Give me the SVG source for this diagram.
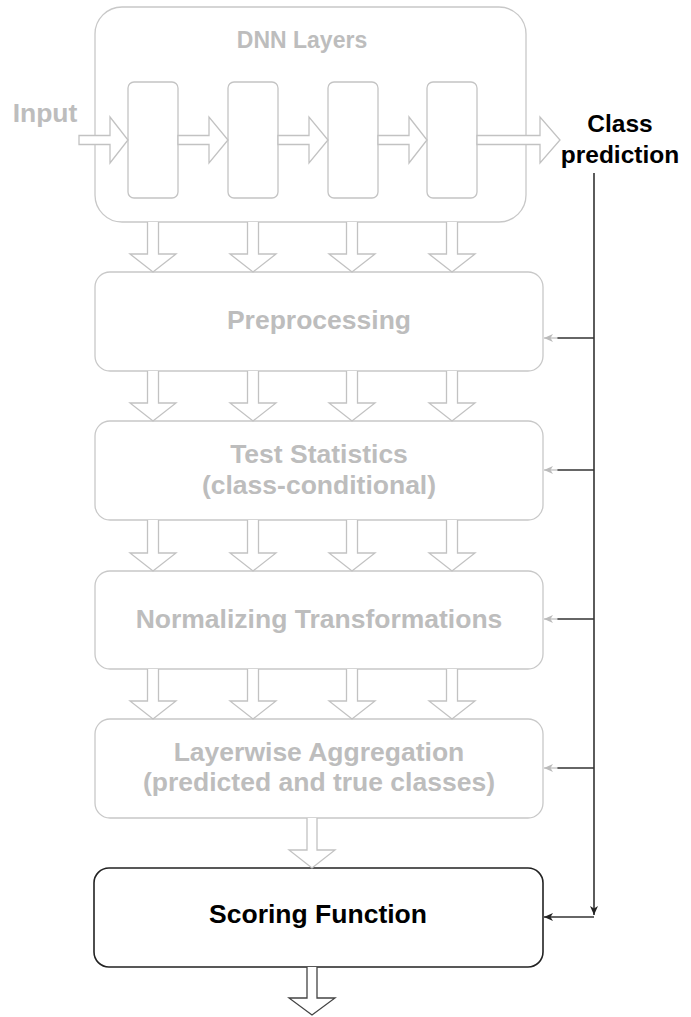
<svg xmlns="http://www.w3.org/2000/svg" width="691" height="1017" viewBox="0 0 691 1017">
<style>
.gbox{fill:#fff;stroke:#c8c8c8;stroke-width:1.3}
.inner{fill:#fff;stroke:#c4c4c4;stroke-width:1.3}
.blk{fill:#fff;stroke:#c2c2c2;stroke-width:1.3;stroke-linejoin:miter}
.blkd{fill:#fff;stroke:#444;stroke-width:1.3}
.gt{font-family:"Liberation Sans",Arial,sans-serif;font-weight:bold;font-size:26.5px;fill:#bdbdbd;text-anchor:middle}
.bt{font-family:"Liberation Sans",Arial,sans-serif;font-weight:bold;font-size:26.5px;fill:#000;text-anchor:middle}
.line{fill:none;stroke:#333;stroke-width:1.6}
.gline{fill:none;stroke:#bbb;stroke-width:1.2}
</style>
<defs>
<marker id="ag" markerWidth="10" markerHeight="8" refX="9" refY="4" orient="auto" markerUnits="userSpaceOnUse"><path d="M0,0 L9,4 L0,8 L2.5,4 Z" fill="#bbb"/></marker>
<marker id="ab" markerWidth="10" markerHeight="8" refX="9" refY="4" orient="auto" markerUnits="userSpaceOnUse"><path d="M0,0 L9,4 L0,8 L2.5,4 Z" fill="#222"/></marker>
</defs>

<g id="dnn-layers">
<rect class="gbox" x="95" y="7" width="431" height="215" rx="27"/>
<text class="gt" x="302" y="48" style="font-size:23px">DNN Layers</text>
<rect class="inner" x="128" y="82" width="50" height="116" rx="6"/>
<rect class="inner" x="228" y="82" width="50" height="116" rx="6"/>
<rect class="inner" x="328" y="82" width="50" height="116" rx="6"/>
<rect class="inner" x="427" y="82" width="50" height="116" rx="6"/>
</g>

<g id="input-label"><text class="gt" x="45" y="122">Input</text></g>

<g id="class-prediction">
<text class="bt" x="620" y="132" style="font-size:24.5px">Class</text>
<text class="bt" x="620" y="163" style="font-size:24.5px">prediction</text>
</g>

<g id="preprocessing">
<rect class="gbox" x="95" y="272" width="448" height="99" rx="15"/>
<text class="gt" x="319" y="329">Preprocessing</text>
</g>

<g id="test-statistics">
<rect class="gbox" x="95" y="421" width="448" height="99" rx="15"/>
<text class="gt" x="319" y="463">Test Statistics</text>
<text class="gt" x="319" y="494">(class-conditional)</text>
</g>

<g id="normalizing">
<rect class="gbox" x="95" y="571" width="448" height="98" rx="15"/>
<text class="gt" x="319" y="628">Normalizing Transformations</text>
</g>

<g id="layerwise">
<rect class="gbox" x="95" y="719" width="448" height="99" rx="15"/>
<text class="gt" x="319" y="761">Layerwise Aggregation</text>
<text class="gt" x="319" y="791">(predicted and true classes)</text>
</g>

<g id="scoring">
<rect x="94" y="868" width="449" height="99" rx="15" fill="#fff" stroke="#222" stroke-width="1.6"/>
<text class="bt" x="318" y="923">Scoring Function</text>
</g>

<g id="connectors">
<path class="blk" d="M79,135.5 L110,135.5 L110,117 L128,140 L110,163 L110,144.5 L79,144.5 Z"/>
<path class="blk" d="M178,135.5 L209,135.5 L209,117 L228,140 L209,163 L209,144.5 L178,144.5 Z"/>
<path class="blk" d="M278,135.5 L309,135.5 L309,117 L328,140 L309,163 L309,144.5 L278,144.5 Z"/>
<path class="blk" d="M378,135.5 L409,135.5 L409,117 L427,140 L409,163 L409,144.5 L378,144.5 Z"/>
<path class="blk" d="M477,135.5 L540,135.5 L540,117 L560,140 L540,163 L540,144.5 L477,144.5 Z"/>
<g>
<path class="blk" d="M147.5,222 L147.5,254 L130,254 L153,272 L176,254 L158.5,254 L158.5,222"/>
<path class="blk" d="M247.5,222 L247.5,254 L230,254 L253,272 L276,254 L258.5,254 L258.5,222"/>
<path class="blk" d="M346.5,222 L346.5,254 L329,254 L352,272 L375,254 L357.5,254 L357.5,222"/>
<path class="blk" d="M446.5,222 L446.5,254 L429,254 L452,272 L475,254 L457.5,254 L457.5,222"/>
</g>
<g>
<path class="blk" d="M147.5,371 L147.5,403 L130,403 L153,421 L176,403 L158.5,403 L158.5,371"/>
<path class="blk" d="M247.5,371 L247.5,403 L230,403 L253,421 L276,403 L258.5,403 L258.5,371"/>
<path class="blk" d="M346.5,371 L346.5,403 L329,403 L352,421 L375,403 L357.5,403 L357.5,371"/>
<path class="blk" d="M446.5,371 L446.5,403 L429,403 L452,421 L475,403 L457.5,403 L457.5,371"/>
</g>
<g>
<path class="blk" d="M147.5,520 L147.5,553 L130,553 L153,571 L176,553 L158.5,553 L158.5,520"/>
<path class="blk" d="M247.5,520 L247.5,553 L230,553 L253,571 L276,553 L258.5,553 L258.5,520"/>
<path class="blk" d="M346.5,520 L346.5,553 L329,553 L352,571 L375,553 L357.5,553 L357.5,520"/>
<path class="blk" d="M446.5,520 L446.5,553 L429,553 L452,571 L475,553 L457.5,553 L457.5,520"/>
</g>
<g>
<path class="blk" d="M147.5,669 L147.5,701 L130,701 L153,719 L176,701 L158.5,701 L158.5,669"/>
<path class="blk" d="M247.5,669 L247.5,701 L230,701 L253,719 L276,701 L258.5,701 L258.5,669"/>
<path class="blk" d="M346.5,669 L346.5,701 L329,701 L352,719 L375,701 L357.5,701 L357.5,669"/>
<path class="blk" d="M446.5,669 L446.5,701 L429,701 L452,719 L475,701 L457.5,701 L457.5,669"/>
</g>
<path class="blk" d="M307,818 L307,850 L289,850 L312,868 L335,850 L317,850 L317,818"/>
<path class="blkd" d="M307,967 L307,998 L289,998 L312,1015 L335,998 L317,998 L317,967"/>
<path class="line" d="M594,173 L594,915" marker-end="url(#ab)"/>
<path class="line" d="M594,338 L557,338"/>
<path class="gline" d="M558,338 L544,338" marker-end="url(#ag)"/>
<path class="line" d="M594,470 L557,470"/>
<path class="gline" d="M558,470 L544,470" marker-end="url(#ag)"/>
<path class="line" d="M594,619 L557,619"/>
<path class="gline" d="M558,619 L544,619" marker-end="url(#ag)"/>
<path class="line" d="M594,768 L557,768"/>
<path class="gline" d="M558,768 L544,768" marker-end="url(#ag)"/>
<path class="line" d="M594,917 L544,917" marker-end="url(#ab)"/>
</g>
</svg>
